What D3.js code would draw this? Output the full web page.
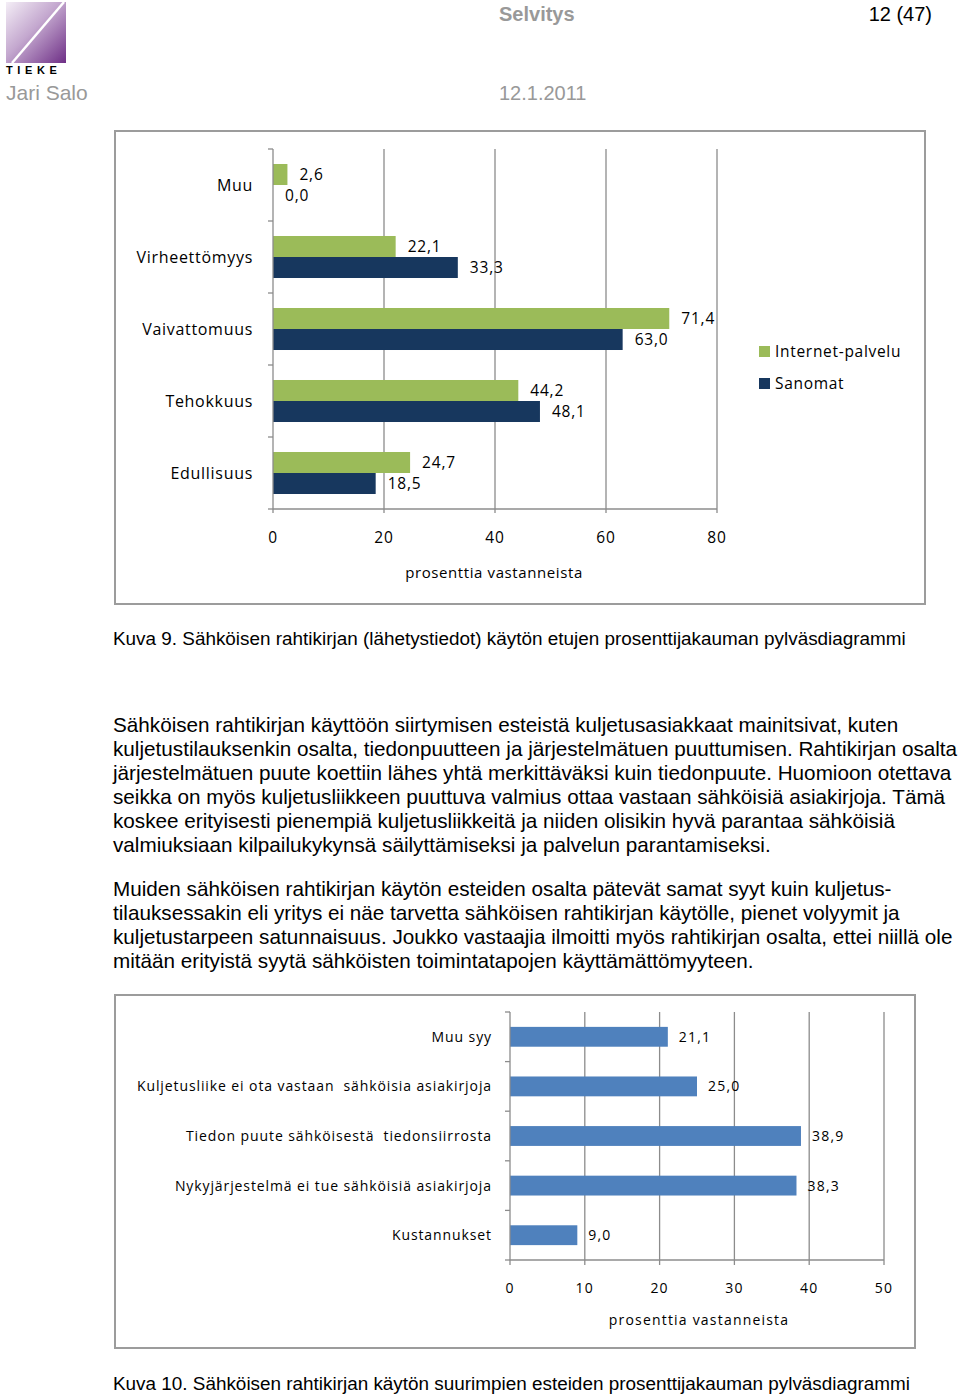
<!DOCTYPE html>
<meta charset="utf-8">
<style>
body { margin: 0; background: #fff; }
svg { display: block; }
.doc { font-family: "Liberation Sans", Arial, sans-serif; }
.chart text { font-family: "Open Sans", "Noto Sans", sans-serif; font-size: 15px; fill: #000; }
.grid line { stroke: #8c8c8c; stroke-width: 1.3px; }
.frame { fill: none; stroke: #9c9c9c; stroke-width: 2px; }
</style>
<body>
<script src="https://cdn.jsdelivr.net/npm/d3@7"></script>
<script>

// chart 1: benefits
var cats1 = ["Muu", "Virheettömyys", "Vaivattomuus", "Tehokkuus", "Edullisuus"];
var series1 = ["Internet-palvelu", "Sanomat"];
var internet = [2.6, 22.1, 71.4, 44.2, 24.7];
var sanomat = [0.0, 33.3, 63.0, 48.1, 18.5];
var ticks1 = [0, 20, 40, 60, 80];

// chart 2: obstacles
var cats2 = ["Muu syy", "Kuljetusliike ei ota vastaan  sähköisia asiakirjoja",
  "Tiedon puute sähköisestä  tiedonsiirrosta", "Nykyjärjestelmä ei tue sähköisiä asiakirjoja", "Kustannukset"];
var vals2 = [21.1, 25.0, 38.9, 38.3, 9.0];
var ticks2 = [0, 10, 20, 30, 40, 50];

var para1 = [
  "Sähköisen rahtikirjan käyttöön siirtymisen esteistä kuljetusasiakkaat mainitsivat, kuten",
  "kuljetustilauksenkin osalta, tiedonpuutteen ja järjestelmätuen puuttumisen. Rahtikirjan osalta",
  "järjestelmätuen puute koettiin lähes yhtä merkittäväksi kuin tiedonpuute. Huomioon otettava",
  "seikka on myös kuljetusliikkeen puuttuva valmius ottaa vastaan sähköisiä asiakirjoja. Tämä",
  "koskee erityisesti pienempiä kuljetusliikkeitä ja niiden olisikin hyvä parantaa sähköisiä",
  "valmiuksiaan kilpailukykynsä säilyttämiseksi ja palvelun parantamiseksi."
];
var para2 = [
  "Muiden sähköisen rahtikirjan käytön esteiden osalta pätevät samat syyt kuin kuljetus-",
  "tilauksessakin eli yritys ei näe tarvetta sähköisen rahtikirjan käytölle, pienet volyymit ja",
  "kuljetustarpeen satunnaisuus. Joukko vastaajia ilmoitti myös rahtikirjan osalta, ettei niillä ole",
  "mitään erityistä syytä sähköisten toimintatapojen käyttämättömyyteen."
];

var colors1 = { "Internet-palvelu": "#9bbb59", "Sanomat": "#17375e" };

var svg = d3.select("body").append("svg")
  .attr("width", 960).attr("height", 1395);

/* ------- header -------*/
var defs = svg.append("defs");
var grad = defs.append("linearGradient").attr("id", "logo")
  .attr("x1", 0).attr("y1", 0).attr("x2", 1).attr("y2", 1);
grad.append("stop").attr("offset", "0%").attr("stop-color", "#f4eef6");
grad.append("stop").attr("offset", "45%").attr("stop-color", "#c4a8cf");
grad.append("stop").attr("offset", "100%").attr("stop-color", "#6e2f86");

svg.append("rect").attr("x", 6).attr("y", 2).attr("width", 60).attr("height", 61)
  .attr("fill", "url(#logo)");
svg.append("line").attr("x1", 12).attr("y1", 63).attr("x2", 64).attr("y2", 2)
  .attr("stroke", "#fff").attr("stroke-width", 2.5);
svg.append("text").attr("class", "doc").attr("x", 6).attr("y", 74)
  .style("font-size", "11px").style("font-weight", "bold").style("letter-spacing", "4.6px")
  .text("TIEKE");

var head = svg.append("g").attr("class", "doc").style("font-size", "20px");
head.append("text").attr("x", 499).attr("y", 21).attr("fill", "#999")
  .style("font-weight", "bold").text("Selvitys");
head.append("text").attr("x", 932).attr("y", 21).attr("text-anchor", "end").text("12 (47)");
head.append("text").attr("x", 6).attr("y", 100).attr("fill", "#999").style("font-size", "21px").text("Jari Salo");
head.append("text").attr("x", 499).attr("y", 100).attr("fill", "#999").text("12.1.2011");

/* ------- chart 1 -------*/
svg.append("rect").attr("class", "frame").attr("x", 115).attr("y", 131).attr("width", 810).attr("height", 473);

var c1 = svg.append("g").attr("class", "chart");
var x1 = d3.scaleLinear().domain([0, 80]).range([273, 717]);
var y1 = d3.scaleBand().domain(cats1).range([149, 509]);
var ys1 = d3.scaleBand().domain(series1).range([0, y1.bandwidth()]).paddingOuter(0.714);

c1.append("g").attr("class", "grid").selectAll("line")
  .data(ticks1.slice(1)).join("line")
  .attr("x1", x1).attr("x2", x1).attr("y1", 149).attr("y2", 513);

var rows1 = cats1.map(function(c, i) {
  return { cat: c, vals: [{ s: series1[0], v: internet[i] }, { s: series1[1], v: sanomat[i] }] };
});

var g1 = c1.selectAll(".row").data(rows1).join("g")
  .attr("transform", function(d) { return "translate(0," + y1(d.cat) + ")"; });

g1.selectAll("rect").data(function(d) { return d.vals; }).join("rect")
  .attr("x", x1(0))
  .attr("y", function(d) { return ys1(d.s); })
  .attr("width", function(d) { return x1(d.v) - x1(0); })
  .attr("height", ys1.bandwidth())
  .attr("fill", function(d) { return colors1[d.s]; });

g1.selectAll("text.val").data(function(d) { return d.vals; }).join("text")
  .attr("class", "val")
  .attr("x", function(d) { return x1(d.v) + 12; })
  .attr("y", function(d) { return ys1(d.s) + ys1.bandwidth() / 2; })
  .attr("dy", "0.35em")
  .style("font-size", "15.5px").style("letter-spacing", "0.8px")
  .text(function(d) { return d3.format(".1f")(d.v).replace(".", ","); });

g1.append("text")
  .attr("x", 253).attr("y", y1.bandwidth() / 2).attr("dy", "0.35em")
  .attr("text-anchor", "end").style("font-size", "16px").style("letter-spacing", "0.7px")
  .text(function(d) { return d.cat; });

// axes
var ax1 = c1.append("g").attr("stroke", "#8c8c8c").attr("stroke-width", 1.3);
ax1.append("line").attr("x1", x1(0)).attr("x2", x1(0)).attr("y1", 149).attr("y2", 513);
ax1.append("line").attr("x1", x1(0)).attr("x2", x1(80)).attr("y1", 509).attr("y2", 509);
ax1.selectAll("line.yt").data(cats1.map(function(c) { return y1(c); }).concat([509])).join("line")
  .attr("class", "yt").attr("x1", x1(0) - 5).attr("x2", x1(0)).attr("y1", function(d) { return d; }).attr("y2", function(d) { return d; });

c1.selectAll("text.tick").data(ticks1).join("text").attr("class", "tick")
  .attr("x", x1).attr("y", 538).attr("dy", "0.35em").attr("text-anchor", "middle")
  .style("font-size", "15.5px").style("letter-spacing", "0.8px")
  .text(function(d) { return d; });
c1.append("text").attr("x", 494).attr("y", 573).attr("dy", "0.35em").attr("text-anchor", "middle")
  .style("letter-spacing", "0.6px").text("prosenttia vastanneista");

var leg1 = c1.selectAll(".leg").data(series1).join("g")
  .attr("transform", function(d, i) { return "translate(759," + (346 + i * 32) + ")"; });
leg1.append("rect").attr("width", 11).attr("height", 11).attr("fill", function(d) { return colors1[d]; });
leg1.append("text").attr("x", 16).attr("y", 5.5).attr("dy", "0.35em")
  .style("font-size", "15.5px").style("letter-spacing", "0.7px").text(function(d) { return d; });

/* ------- captions and text -------*/
var doc = svg.append("g").attr("class", "doc");
doc.append("text").attr("x", 113).attr("y", 645).style("font-size", "18.9px")
  .text("Kuva 9. Sähköisen rahtikirjan (lähetystiedot) käytön etujen prosenttijakauman pylväsdiagrammi");

doc.selectAll("text.p1").data(para1).join("text").attr("class", "p1")
  .attr("x", 113).attr("y", function(d, i) { return 732 + i * 24; })
  .style("font-size", "20.7px").text(function(d) { return d; });
doc.selectAll("text.p2").data(para2).join("text").attr("class", "p2")
  .attr("x", 113).attr("y", function(d, i) { return 896 + i * 24; })
  .style("font-size", "20.7px").text(function(d) { return d; });

doc.append("text").attr("x", 113).attr("y", 1390).style("font-size", "18.9px")
  .text("Kuva 10. Sähköisen rahtikirjan käytön suurimpien esteiden prosenttijakauman pylväsdiagrammi");

/* ------- chart 2 -------*/
svg.append("rect").attr("class", "frame").attr("x", 115).attr("y", 995).attr("width", 800).attr("height", 353);

var c2 = svg.append("g").attr("class", "chart");
var x2 = d3.scaleLinear().domain([0, 50]).range([510, 884]);
var y2 = d3.scaleBand().domain(cats2).range([1012, 1260]).paddingInner(0.6).paddingOuter(0.3);

c2.append("g").attr("class", "grid").selectAll("line")
  .data(ticks2.slice(1)).join("line")
  .attr("x1", x2).attr("x2", x2).attr("y1", 1012).attr("y2", 1265);

c2.selectAll("rect.bar").data(vals2).join("rect").attr("class", "bar")
  .attr("x", x2(0))
  .attr("y", function(d, i) { return y2(cats2[i]); })
  .attr("width", function(d) { return x2(d) - x2(0); })
  .attr("height", y2.bandwidth())
  .attr("fill", "#4f81bd");

c2.selectAll("text.val").data(vals2).join("text").attr("class", "val")
  .attr("x", function(d) { return x2(d) + 11; })
  .attr("y", function(d, i) { return y2(cats2[i]) + y2.bandwidth() / 2; })
  .attr("dy", "0.35em").style("font-size", "14px").style("letter-spacing", "1.2px")
  .text(function(d) { return d3.format(".1f")(d).replace(".", ","); });

c2.selectAll("text.cat").data(cats2).join("text").attr("class", "cat")
  .attr("x", 492).attr("y", function(d) { return y2(d) + y2.bandwidth() / 2; })
  .attr("dy", "0.35em").attr("text-anchor", "end")
  .style("font-size", "14px").style("letter-spacing", "0.9px").style("white-space", "pre")
  .text(function(d) { return d; });

var ax2 = c2.append("g").attr("stroke", "#8c8c8c").attr("stroke-width", 1.3);
ax2.append("line").attr("x1", x2(0)).attr("x2", x2(0)).attr("y1", 1012).attr("y2", 1265);
ax2.append("line").attr("x1", x2(0)).attr("x2", x2(50)).attr("y1", 1260).attr("y2", 1260);
ax2.selectAll("line.yt").data(d3.range(cats2.length + 1).map(function(i) { return 1012 + i * y2.step(); })).join("line")
  .attr("class", "yt").attr("x1", x2(0) - 5).attr("x2", x2(0)).attr("y1", function(d) { return d; }).attr("y2", function(d) { return d; });

c2.selectAll("text.tick").data(ticks2).join("text").attr("class", "tick")
  .attr("x", x2).attr("y", 1288).attr("dy", "0.35em").attr("text-anchor", "middle")
  .style("font-size", "14px").style("letter-spacing", "1.2px")
  .text(function(d) { return d; });
c2.append("text").attr("x", 699).attr("y", 1320).attr("dy", "0.35em").attr("text-anchor", "middle")
  .style("font-size", "14px").style("letter-spacing", "1.2px").text("prosenttia vastanneista");

</script>
</body>
